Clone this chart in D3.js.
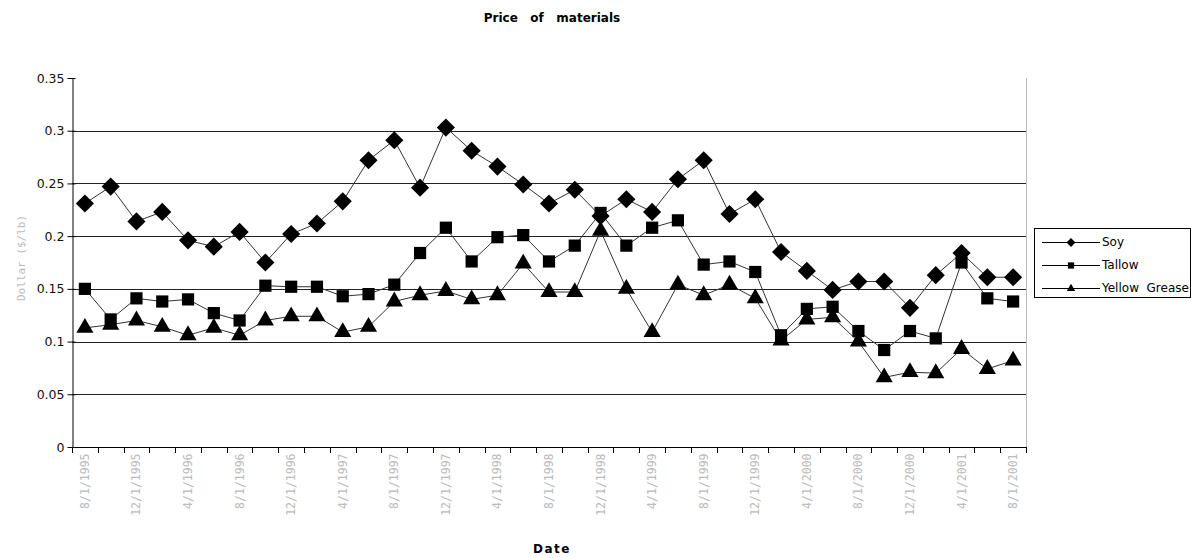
<!DOCTYPE html>
<html><head><meta charset="utf-8">
<script src="https://cdn.jsdelivr.net/npm/d3@7"></script>
<style>
body{margin:0;background:#fff;}
svg{display:block;}
</style></head>
<body>
<svg id="chart" width="1191" height="558"></svg>
<script>
const categories = ["8/1/1995","10/1/1995","12/1/1995","2/1/1996","4/1/1996","6/1/1996","8/1/1996","10/1/1996","12/1/1996","2/1/1997","4/1/1997","6/1/1997","8/1/1997","10/1/1997","12/1/1997","2/1/1998","4/1/1998","6/1/1998","8/1/1998","10/1/1998","12/1/1998","2/1/1999","4/1/1999","6/1/1999","8/1/1999","10/1/1999","12/1/1999","2/1/2000","4/1/2000","6/1/2000","8/1/2000","10/1/2000","12/1/2000","2/1/2001","4/1/2001","6/1/2001","8/1/2001"];
const soy = [0.231,0.247,0.214,0.223,0.196,0.190,0.204,0.175,0.202,0.212,0.233,0.272,0.291,0.246,0.303,0.281,0.266,0.249,0.231,0.244,0.219,0.235,0.223,0.254,0.272,0.221,0.235,0.185,0.167,0.149,0.157,0.157,0.132,0.163,0.184,0.161,0.161];
const tallow = [0.150,0.121,0.141,0.138,0.140,0.127,0.120,0.153,0.152,0.152,0.143,0.145,0.154,0.184,0.208,0.176,0.199,0.201,0.176,0.191,0.222,0.191,0.208,0.215,0.173,0.176,0.166,0.106,0.131,0.133,0.110,0.092,0.110,0.103,0.175,0.141,0.138];
const yellowGrease = [0.113,0.116,0.120,0.114,0.106,0.113,0.106,0.120,0.124,0.124,0.109,0.114,0.138,0.144,0.148,0.140,0.144,0.174,0.147,0.147,0.205,0.150,0.109,0.154,0.144,0.154,0.141,0.101,0.121,0.123,0.100,0.066,0.071,0.070,0.093,0.074,0.082];
const yTicks = [0,0.05,0.1,0.15,0.2,0.25,0.3,0.35];
const seriesNames = ["Soy","Tallow","Yellow  Grease"];
const chartTitle = "Price   of   materials";
const xTitle = "Date";
const yTitle = "Dollar ($/lb)";

const series = [
  {name: seriesNames[0], values: soy, symbol: d3.symbolDiamond2},
  {name: seriesNames[1], values: tallow, symbol: d3.symbolSquare2},
  {name: seriesNames[2], values: yellowGrease, symbol: d3.symbolTriangle2}
];

const svg = d3.select("#chart");
const m = {left:72, right:1026, top:78, bottom:447};

const x = d3.scaleBand().domain(categories).range([m.left, m.right]).padding(0);
const y = d3.scaleLinear().domain([0,0.35]).range([m.bottom, m.top]);

// gridlines
svg.append("g").selectAll("line").data(yTicks.filter(t => t>0 && t<0.35)).join("line")
  .attr("x1", m.left).attr("x2", m.right)
  .attr("y1", d => Math.round(y(d))+0.5).attr("y2", d => Math.round(y(d))+0.5)
  .attr("stroke", "#222").attr("stroke-width", 1);

// right border of plot area
svg.append("line").attr("x1", m.right+0.5).attr("x2", m.right+0.5).attr("y1", m.top).attr("y2", m.bottom)
  .attr("stroke", "#bbb");

// y axis
const yAxis = d3.axisLeft(y).tickValues(yTicks).tickFormat(d => d===0 ? "0" : String(+d.toFixed(2))).tickSize(5).tickSizeOuter(0);
const gy = svg.append("g").attr("transform", `translate(${m.left+0.5},0)`).call(yAxis);
gy.select(".domain").attr("stroke","#000");
gy.selectAll(".tick line").attr("x2", -5).attr("x1", 3).attr("stroke","#000");
gy.selectAll(".tick text").attr("x", -8).attr("font-family","'DejaVu Sans', sans-serif").attr("font-size", 12.5).attr("fill","#111");

// x axis
const xAxis = d3.axisBottom(x).tickSize(0).tickFormat((d,i) => i%2===0 ? d : "");
const gx = svg.append("g").attr("transform", `translate(0,${m.bottom+0.5})`).call(xAxis);
gx.select(".domain").attr("stroke","#000").attr("d", `M${m.left},0H${m.right}`);
gx.selectAll(".tick text")
  .attr("transform", "rotate(-90)")
  .attr("text-anchor", "end")
  .attr("x", -6).attr("y", 0).attr("dy", "0.35em")
  .attr("font-family","'DejaVu Sans Mono', monospace").attr("font-size", 11.5).attr("fill","#bbb");
// category boundary ticks
const bounds = categories.map(c => x(c)).concat([x(categories[categories.length-1]) + x.bandwidth()]);
svg.append("g").selectAll("line").data(bounds).join("line")
  .attr("x1", d => Math.round(d)+0.5).attr("x2", d => Math.round(d)+0.5)
  .attr("y1", m.bottom).attr("y2", m.bottom+6).attr("stroke","#000");

// series lines and markers
const line = d3.line().x((d,i) => x(categories[i]) + x.bandwidth()/2).y(d => y(d));
series.forEach(s => {
  svg.append("path").datum(s.values).attr("d", line)
    .attr("fill","none").attr("stroke","#333").attr("stroke-width",1);
});
series.forEach(s => {
  const sym = d3.symbol().type(s.symbol).size(s.symbol===d3.symbolSquare2 ? 190 : 210);
  svg.append("g").selectAll("path").data(s.values).join("path")
    .attr("transform", (d,i) => `translate(${x(categories[i]) + x.bandwidth()/2},${y(d)})`)
    .attr("d", sym).attr("fill","#000");
});

// titles
svg.append("text").attr("x", 552).attr("y", 22).attr("text-anchor","middle")
  .attr("font-family","'DejaVu Sans', sans-serif").attr("font-weight","bold").attr("font-size",12)
  .style("white-space","pre").text(chartTitle);
svg.append("text").attr("x", 552).attr("y", 553).attr("text-anchor","middle")
  .attr("font-family","'DejaVu Sans', sans-serif").attr("font-weight","bold").attr("font-size",12)
  .attr("letter-spacing", 1.5).text(xTitle);
svg.append("text").attr("transform","translate(25,258) rotate(-90)").attr("text-anchor","middle")
  .attr("font-family","'DejaVu Sans Mono', monospace").attr("font-size",11).attr("fill","#bbb")
  .text(yTitle);

// legend
const lg = svg.append("g").attr("transform","translate(1034,228)");
lg.append("rect").attr("x",0.5).attr("y",0.5).attr("width",156).attr("height",69)
  .attr("fill","#fff").attr("stroke","#000");
series.forEach((s,i) => {
  const yy = 14 + i*23;
  lg.append("line").attr("x1",8).attr("x2",66).attr("y1",yy+0.5).attr("y2",yy+0.5).attr("stroke","#000");
  lg.append("path").attr("transform",`translate(37,${yy+0.5})`)
    .attr("d", d3.symbol().type(s.symbol).size(50)).attr("fill","#000");
  lg.append("text").attr("x",68).attr("y",yy).attr("dy","0.35em")
    .attr("font-family","'DejaVu Sans', sans-serif").attr("font-size",12)
    .style("white-space","pre").text(s.name);
});
</script>
</body></html>
